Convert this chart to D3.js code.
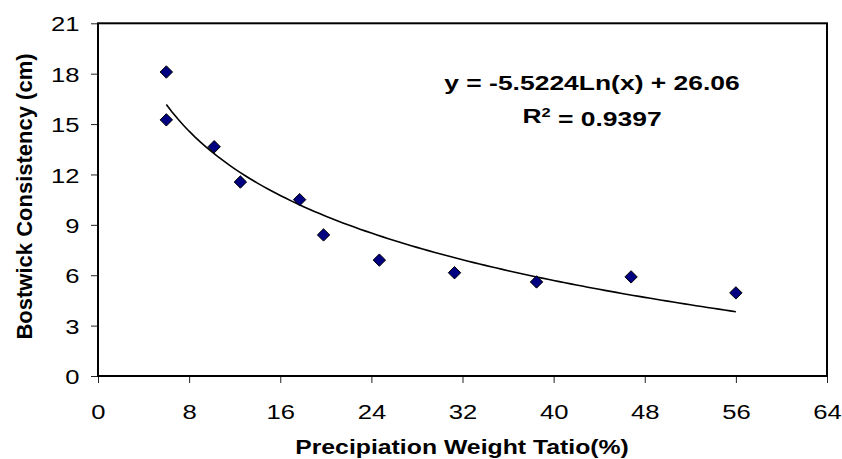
<!DOCTYPE html>
<html>
<head>
<meta charset="utf-8">
<style>
  body { margin: 0; background: #fff; }
  text { font-family: "Liberation Sans", Arial, sans-serif; fill: #000; }
  .tick line { stroke: #222; stroke-width: 1px; }
  .tick text { font-size: 21px; }
  .frame { fill: none; stroke: #000; stroke-width: 2px; }
  .trend { fill: none; stroke: #000; stroke-width: 1.6px; }
  .pt { fill: #000080; stroke: #000; stroke-width: 1px; }
  .title { font-weight: bold; }
</style>
</head>
<body>
<div id="chart"></div>
<script src="https://cdn.jsdelivr.net/npm/d3@7"></script>
<script>
  // values
  var ratio       = [6, 6, 10.2, 12.5, 17.7, 19.8, 24.7, 31.3, 38.5, 46.8, 56];
  var consistency = [18.1, 15.25, 13.65, 11.55, 10.5, 8.4, 6.9, 6.15, 5.6, 5.9, 4.95];
  var xTicks = [0, 8, 16, 24, 32, 40, 48, 56, 64];
  var yTicks = [0, 3, 6, 9, 12, 15, 18, 21];
  // log trend line as printed on the chart
  var trendCoef = [-5.5224, 26.06];
  var equationLines = ["y = -5.5224Ln(x) + 26.06", "= 0.9397"];

  var width = 842, height = 459;
  var margin = {left: 98, right: 15, top: 23.3, bottom: 83};
  var stretch = 1.22; // the source text is drawn wider than normal

  var svg = d3.select("#chart").append("svg")
      .attr("width", width)
      .attr("height", height);

  var x = d3.scaleLinear().domain([0, 64]).range([margin.left, width - margin.right]);
  var y = d3.scaleLinear().domain([0, 21]).range([height - margin.bottom, margin.top]);

  // y axis
  var gy = svg.append("g")
      .attr("transform", "translate(" + margin.left + ",0)")
      .call(d3.axisLeft(y).tickValues(yTicks).tickSize(7).tickSizeOuter(0));
  gy.select(".domain").remove();
  gy.selectAll(".tick text")
      .attr("x", null)
      .attr("dy", "0.36em")
      .attr("transform", "translate(-18.5,0) scale(" + stretch + ",1)");

  // x axis
  var gx = svg.append("g")
      .attr("transform", "translate(0," + y(0) + ")")
      .call(d3.axisBottom(x).tickValues(xTicks).tickSize(7).tickSizeOuter(0));
  gx.select(".domain").remove();
  gx.selectAll(".tick text")
      .attr("y", null)
      .attr("dy", null)
      .attr("transform", "translate(0,43) scale(" + stretch + ",1)");

  // plot frame
  svg.append("rect")
      .attr("class", "frame")
      .attr("x", x(0))
      .attr("y", y(21))
      .attr("width", x(64) - x(0))
      .attr("height", y(0) - y(21));

  // trend line over the data range
  var xMin = d3.min(ratio), xMax = d3.max(ratio);
  var trendX = d3.range(xMin, xMax, 0.5).concat([xMax]);
  var line = d3.line()
      .x(function(d) { return x(d); })
      .y(function(d) { return y(trendCoef[0] * Math.log(d) + trendCoef[1]); });
  svg.append("path")
      .attr("class", "trend")
      .attr("d", line(trendX));

  // diamonds
  var r = 6.2;
  var diamond = "M0," + (-r) + "L" + r + ",0L0," + r + "L" + (-r) + ",0Z";
  svg.selectAll(".pt")
      .data(ratio)
      .enter().append("path")
      .attr("class", "pt")
      .attr("d", diamond)
      .attr("transform", function(d, i) {
        return "translate(" + x(d) + "," + y(consistency[i]) + ")";
      });

  // equation label
  var eq = svg.append("g").attr("class", "title").style("font-size", "21px");
  eq.append("text")
      .attr("text-anchor", "middle")
      .attr("transform", "translate(592,90) scale(1.26,1)")
      .text(equationLines[0]);
  var r2 = eq.append("text")
      .attr("text-anchor", "middle")
      .attr("transform", "translate(592,122.5) scale(1.26,1)");
  r2.append("tspan").text("R");
  r2.append("tspan").attr("dy", "-0.45em").style("font-size", "13px").text("2");
  r2.append("tspan").attr("dy", "0.45em").text(" " + equationLines[1]);

  // axis titles
  svg.append("text")
      .attr("class", "title")
      .style("font-size", "20px")
      .attr("text-anchor", "middle")
      .attr("transform", "translate(462,454) scale(1.24,1)")
      .text("Precipiation Weight Tatio(%)");

  svg.append("text")
      .attr("class", "title")
      .style("font-size", "22px")
      .attr("text-anchor", "middle")
      .attr("transform", "translate(31.5,196.5) rotate(-90)")
      .text("Bostwick Consistency (cm)");
</script>
</body>
</html>
